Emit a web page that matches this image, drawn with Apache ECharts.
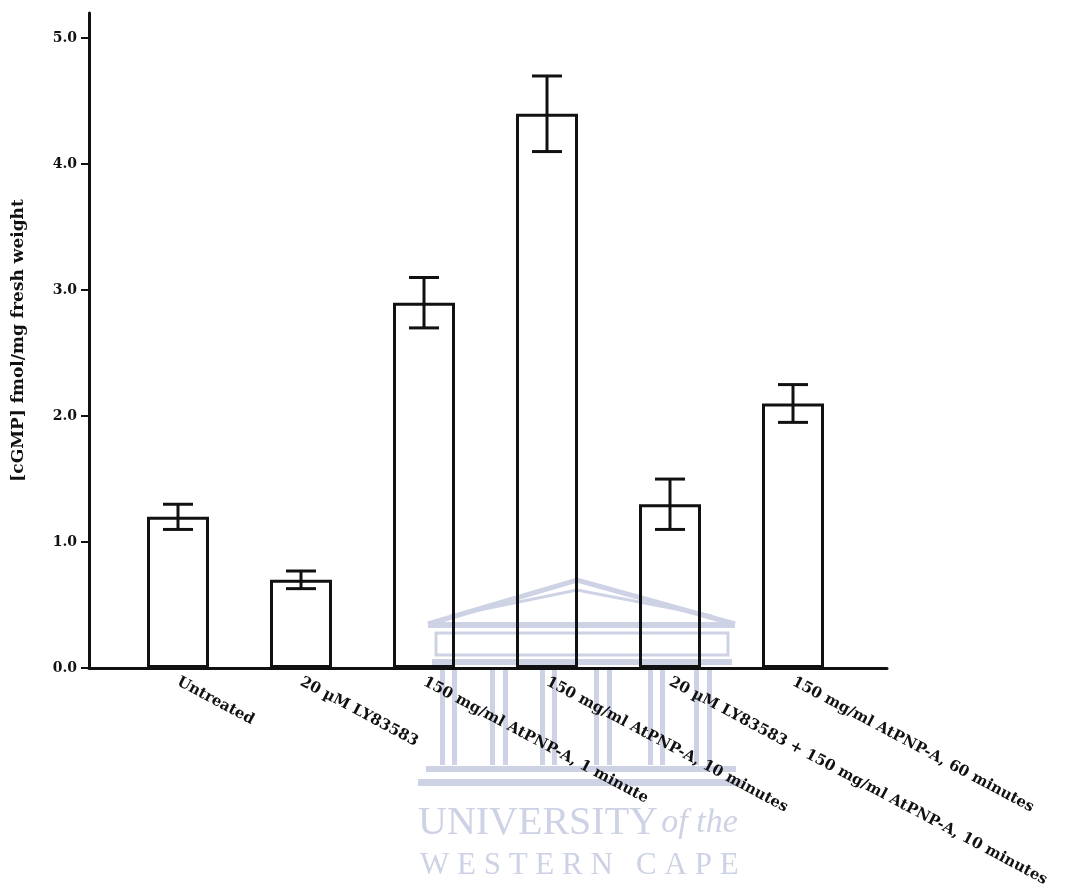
<!DOCTYPE html>
<html>
<head>
<meta charset="utf-8">
<title>cGMP levels</title>
<script src="https://cdn.jsdelivr.net/npm/echarts@6/dist/echarts.min.js"></script>
<style>
  html, body { margin: 0; padding: 0; background: #fff; }
  #chart { width: 1070px; height: 896px; }
</style>
</head>
<body>
<div id="chart"></div>
<script>
// data
const categories = [
  'Untreated',
  '20 µM LY83583',
  '150 mg/ml AtPNP-A, 1 minute',
  '150 mg/ml AtPNP-A, 10 minutes',
  '20 µM LY83583 + 150 mg/ml AtPNP-A, 10 minutes',
  '150 mg/ml AtPNP-A, 60 minutes'
]
const means = [1.2, 0.7, 2.9, 4.4, 1.3, 2.1]
const errors = [0.1, 0.07, 0.2, 0.3, 0.2, 0.15]
const yTicks = [0, 1, 2, 3, 4, 5]
const yName = '[cGMP] fmol/mg fresh weight'

const SERIF = '"DejaVu Serif", "Liberation Serif", serif'
const WM_FONT = '"Liberation Serif", "DejaVu Serif", serif'
const INK = '#111'
const WM = '#cdd2e5'

const chart = echarts.init(document.getElementById('chart'))

// error bar drawing
function renderError(params, api) {
  const x = api.value(0)
  const top = api.coord([x, api.value(2)])
  const bot = api.coord([x, api.value(1)])
  const hw = 15
  const style = { stroke: INK, lineWidth: 3 }
  return {
    type: 'group',
    children: [
      { type: 'line', shape: { x1: top[0], y1: top[1], x2: bot[0], y2: bot[1] }, style: style },
      { type: 'line', shape: { x1: top[0] - hw, y1: top[1], x2: top[0] + hw, y2: top[1] }, style: style },
      { type: 'line', shape: { x1: bot[0] - hw, y1: bot[1], x2: bot[0] + hw, y2: bot[1] }, style: style }
    ]
  }
}

// faint watermark of the scanned page
const pillarX = [440, 452, 490, 503, 540, 552, 594, 607, 648, 660, 694, 707]
const watermark = [
  { type: 'polyline', shape: { points: [[428, 624], [577, 580], [735, 624]] }, style: { stroke: WM, fill: null, lineWidth: 5 } },
  { type: 'polyline', shape: { points: [[450, 616], [577, 590], [712, 616]] }, style: { stroke: WM, fill: null, lineWidth: 3 } },
  { type: 'rect', shape: { x: 428, y: 622, width: 307, height: 6 }, style: { fill: WM } },
  { type: 'rect', shape: { x: 436, y: 633, width: 292, height: 22 }, style: { stroke: WM, fill: null, lineWidth: 3 } },
  { type: 'rect', shape: { x: 432, y: 659, width: 300, height: 6 }, style: { fill: WM } }
]
pillarX.forEach(function (x) {
  watermark.push({ type: 'rect', shape: { x: x, y: 670, width: 5, height: 95 }, style: { fill: WM } })
})
watermark.push(
  { type: 'rect', shape: { x: 426, y: 766, width: 310, height: 6 }, style: { fill: WM } },
  { type: 'rect', shape: { x: 418, y: 779, width: 324, height: 7 }, style: { fill: WM } },
  {
    type: 'text', left: 418, top: 803,
    style: {
      text: '{a|UNIVERSITY} {b|of the}',
      rich: {
        a: { font: '40px ' + WM_FONT, fill: WM },
        b: { font: 'italic 34px ' + WM_FONT, fill: WM }
      }
    }
  },
  {
    type: 'text', left: 420, top: 850,
    style: { text: 'W E S T E R N   C A P E', font: '31px ' + WM_FONT, fill: WM }
  }
)

const option = {
  backgroundColor: '#fff',
  animation: false,
  grid: [
    { left: 116.5, right: 215.5, top: 13, bottom: 228, containLabel: false, outerBoundsMode: 'none' },
    { left: 89, right: 183, top: 13, bottom: 228, containLabel: false, outerBoundsMode: 'none' }
  ],
  xAxis: [
    {
      gridIndex: 0,
      type: 'category',
      data: categories,
      boundaryGap: true,
      axisLine: { show: false },
      axisTick: { show: false },
      axisLabel: {
        interval: 0,
        rotate: -28,
        margin: 13,
        color: INK,
        fontFamily: SERIF,
        fontWeight: 'bold',
        fontSize: 15
      },
      splitLine: { show: false }
    },
    {
      gridIndex: 1,
      type: 'value',
      min: 0,
      max: 1,
      axisLine: { show: true, lineStyle: { color: INK, width: 3 } },
      axisTick: { show: false },
      axisLabel: { show: false },
      splitLine: { show: false }
    }
  ],
  yAxis: [
    {
      gridIndex: 0,
      type: 'value',
      min: 0,
      max: 5.2,
      show: false,
      splitLine: { show: false }
    },
    {
      gridIndex: 1,
      type: 'value',
      min: 0,
      max: 5.2,
      name: yName,
      nameLocation: 'middle',
      nameGap: 62,
      nameTextStyle: { color: INK, fontFamily: SERIF, fontWeight: 'bold', fontSize: 17 },
      axisLine: { show: true, lineStyle: { color: INK, width: 3 } },
      axisTick: { show: true, length: 8, lineStyle: { color: INK, width: 2 }, customValues: yTicks },
      axisLabel: {
        color: INK,
        fontFamily: SERIF,
        fontWeight: 'bold',
        fontSize: 14,
        margin: 12,
        customValues: yTicks,
        formatter: function (v) { return v.toFixed(1) }
      },
      splitLine: { show: false }
    }
  ],
  series: [
    {
      type: 'bar',
      xAxisIndex: 0,
      yAxisIndex: 0,
      data: means,
      barWidth: 62,
      itemStyle: { color: 'rgba(255,255,255,0)', borderColor: INK, borderWidth: 3 }
    },
    {
      type: 'custom',
      xAxisIndex: 0,
      yAxisIndex: 0,
      renderItem: renderError,
      data: means.map(function (m, i) { return [i, m - errors[i], m + errors[i]] }),
      z: 3
    }
  ],
  graphic: watermark
}

chart.setOption(option)
</script>
</body>
</html>
